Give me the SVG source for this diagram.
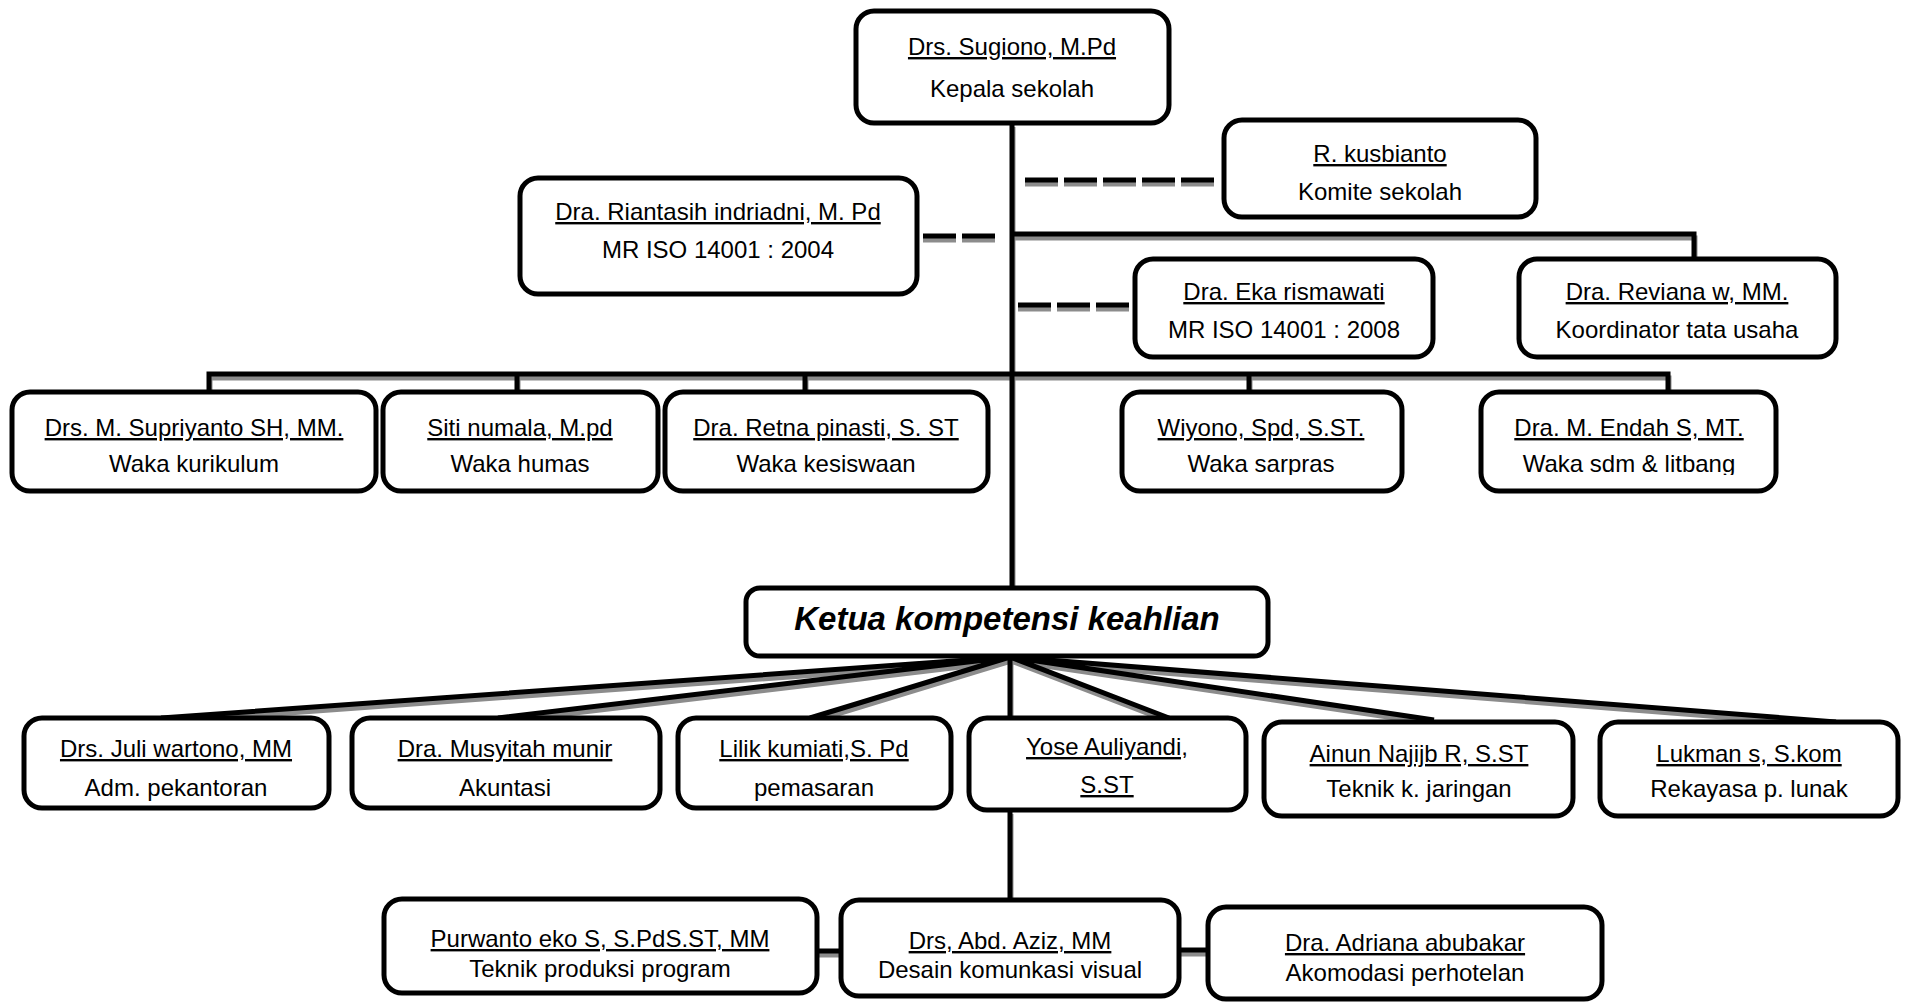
<svg xmlns="http://www.w3.org/2000/svg" xmlns:xlink="http://www.w3.org/1999/xlink" width="1906" height="1002" viewBox="0 0 1906 1002">
<style>
.box{fill:#fff;stroke:#000;stroke-width:5}
text{font-family:"Liberation Sans",Arial,sans-serif;font-size:24px;text-anchor:middle;fill:#000}
.u{text-decoration:underline}
.k{font-weight:bold;font-style:italic;font-size:33px}
.shadow{stroke:#8c8c8c;stroke-width:5;fill:none}
.ink{stroke:#000;stroke-width:5;fill:none}
</style>
<defs>
<clipPath id="clipWaka"><rect x="0" y="0" width="1906" height="475"/></clipPath>
<g id="solid">
<path d="M1012,123 V588"/>
<path d="M1012,234 H1694 V259"/>
<path d="M209,392 V374 H1668 V392"/>
<path d="M517,374 V392 M805,374 V392 M1249,374 V392"/>
<path d="M1010,657 L161,718 M1010,657 L498,718 M1010,657 L810,718 M1010,657 V720 M1010,657 L1169,718 M1010,657 L1434,720 M1010,657 L1836,722"/>
<path d="M1010,810 V900"/>
<path d="M817,951 H841 M1179,950 H1208"/>
</g>
<g id="dashed" stroke-dasharray="33 6">
<path d="M1025,180 H1218"/>
<path d="M923,236 H996"/>
<path d="M1018,305 H1130"/>
</g>
</defs>
<g id="connectors">
<use xlink:href="#solid" class="shadow" transform="translate(1,4)"/>
<use xlink:href="#dashed" class="shadow" transform="translate(0,4)"/>
<use xlink:href="#solid" class="ink"/>
<use xlink:href="#dashed" class="ink"/>
</g>
<g id="sugiono"><rect class="box" x="856" y="11" width="313" height="112" rx="18"/><text class="u" x="1012" y="55">Drs. Sugiono, M.Pd</text><text x="1012" y="97">Kepala sekolah</text></g>
<g id="komite"><rect class="box" x="1224" y="120" width="312" height="97" rx="18"/><text class="u" x="1380" y="162">R. kusbianto</text><text x="1380" y="200">Komite sekolah</text></g>
<g id="riantasih"><rect class="box" x="520" y="178" width="397" height="116" rx="18"/><text class="u" x="718" y="220">Dra. Riantasih indriadni, M. Pd</text><text x="718" y="258">MR ISO 14001 : 2004</text></g>
<g id="eka"><rect class="box" x="1135" y="259" width="298" height="98" rx="18"/><text class="u" x="1284" y="300">Dra. Eka rismawati</text><text x="1284" y="338">MR ISO 14001 : 2008</text></g>
<g id="reviana"><rect class="box" x="1519" y="259" width="317" height="98" rx="18"/><text class="u" x="1677" y="300">Dra. Reviana w, MM.</text><text x="1677" y="338">Koordinator tata usaha</text></g>
<g id="supriyanto"><rect class="box" x="12" y="392" width="364" height="99" rx="18"/><text class="u" x="194" y="436">Drs. M. Supriyanto SH, MM.</text><text x="194" y="472">Waka kurikulum</text></g>
<g id="siti"><rect class="box" x="383" y="392" width="275" height="99" rx="18"/><text class="u" x="520" y="436">Siti numala, M.pd</text><text x="520" y="472">Waka humas</text></g>
<g id="retna"><rect class="box" x="665" y="392" width="323" height="99" rx="18"/><text class="u" x="826" y="436">Dra. Retna pinasti, S. ST</text><text x="826" y="472">Waka kesiswaan</text></g>
<g id="wiyono"><rect class="box" x="1122" y="392" width="280" height="99" rx="18"/><text class="u" x="1261" y="436">Wiyono, Spd, S.ST.</text><text x="1261" y="472" clip-path="url(#clipWaka)">Waka sarpras</text></g>
<g id="endah"><rect class="box" x="1481" y="392" width="295" height="99" rx="18"/><text class="u" x="1629" y="436">Dra. M. Endah S, MT.</text><text x="1629" y="472" clip-path="url(#clipWaka)">Waka sdm &amp; litbang</text></g>
<g id="ketua"><rect class="box" x="746" y="588" width="522" height="68" rx="14"/><text class="k" x="1007" y="630">Ketua kompetensi keahlian</text></g>
<g id="juli"><rect class="box" x="24" y="718" width="305" height="90" rx="18"/><text class="u" x="176" y="757">Drs. Juli wartono, MM</text><text x="176" y="796">Adm. pekantoran</text></g>
<g id="musyitah"><rect class="box" x="352" y="718" width="308" height="90" rx="18"/><text class="u" x="505" y="757">Dra. Musyitah munir</text><text x="505" y="796">Akuntasi</text></g>
<g id="lilik"><rect class="box" x="678" y="718" width="273" height="90" rx="18"/><text class="u" x="814" y="757">Lilik kumiati,S. Pd</text><text x="814" y="796">pemasaran</text></g>
<g id="yose"><rect class="box" x="969" y="718" width="277" height="92" rx="18"/><text class="u" x="1107" y="755">Yose Auliyandi,</text><text class="u" x="1107" y="793">S.ST</text></g>
<g id="ainun"><rect class="box" x="1264" y="722" width="309" height="94" rx="18"/><text class="u" x="1419" y="762">Ainun Najijb R,  S.ST</text><text x="1419" y="797">Teknik k. jaringan</text></g>
<g id="lukman"><rect class="box" x="1600" y="722" width="298" height="94" rx="18"/><text class="u" x="1749" y="762">Lukman s, S.kom</text><text x="1749" y="797">Rekayasa p.  lunak</text></g>
<g id="purwanto"><rect class="box" x="384" y="899" width="433" height="94" rx="18"/><text class="u" x="600" y="947">Purwanto eko S, S.PdS.ST, MM</text><text x="600" y="977">Teknik produksi program</text></g>
<g id="aziz"><rect class="box" x="841" y="900" width="338" height="96" rx="18"/><text class="u" x="1010" y="949">Drs, Abd. Aziz, MM</text><text x="1010" y="978">Desain komunkasi visual</text></g>
<g id="adriana"><rect class="box" x="1208" y="907" width="394" height="92" rx="18"/><text class="u" x="1405" y="951">Dra. Adriana abubakar</text><text x="1405" y="981">Akomodasi perhotelan</text></g>
</svg>
